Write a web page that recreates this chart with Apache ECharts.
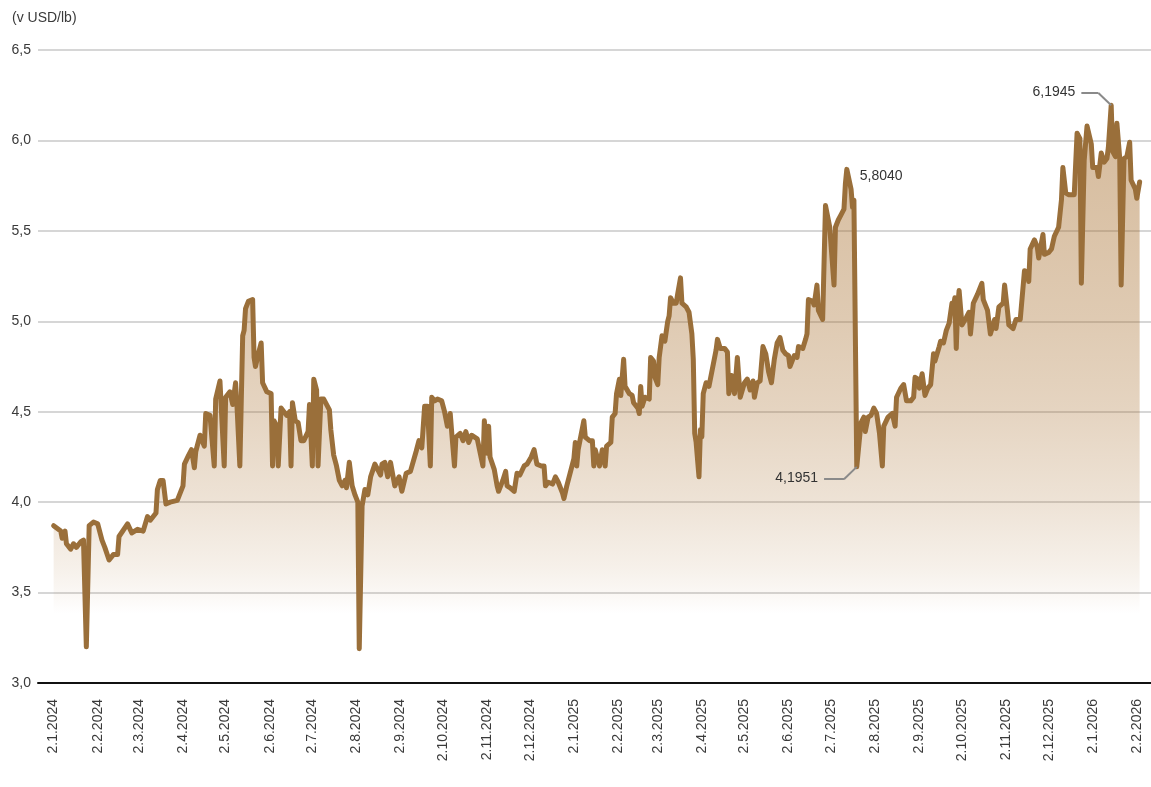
<!DOCTYPE html>
<html>
<head>
<meta charset="utf-8">
<script src="https://cdn.jsdelivr.net/npm/echarts@6/dist/echarts.min.js"></script>
<style>
  html, body { margin: 0; padding: 0; background: #fff; }
  #chart { width: 1151px; height: 787px; }
</style>
</head>
<body>
<div id="chart"></div>
<script>
// Tick labels shown under the x axis (always the 2nd of the month)
const tickLabels = [
    '2.1.2024', '2.2.2024', '2.3.2024', '2.4.2024', '2.5.2024', '2.6.2024', '2.7.2024',
    '2.8.2024', '2.9.2024', '2.10.2024', '2.11.2024', '2.12.2024',
    '2.1.2025', '2.2.2025', '2.3.2025', '2.4.2025', '2.5.2025', '2.6.2025', '2.7.2025',
    '2.8.2025', '2.9.2025', '2.10.2025', '2.11.2025', '2.12.2025',
    '2.1.2026', '2.2.2026'
];

// Price observations (USD/lb)
const dates = [
    '2024-01-02','2024-01-07','2024-01-08','2024-01-10','2024-01-11','2024-01-14','2024-01-16','2024-01-18',
    '2024-01-21','2024-01-23','2024-01-25','2024-01-27','2024-01-30','2024-02-02','2024-02-05','2024-02-07',
    '2024-02-10','2024-02-13','2024-02-16','2024-02-17','2024-02-23','2024-02-26','2024-03-01','2024-03-05',
    '2024-03-08','2024-03-10','2024-03-14','2024-03-15','2024-03-17','2024-03-19','2024-03-21','2024-03-24',
    '2024-03-29','2024-04-02','2024-04-03','2024-04-06','2024-04-08','2024-04-10','2024-04-11','2024-04-14',
    '2024-04-17','2024-04-18','2024-04-21','2024-04-24','2024-04-25','2024-04-28','2024-05-01','2024-05-02',
    '2024-05-05','2024-05-07','2024-05-09','2024-05-10','2024-05-12','2024-05-14','2024-05-15','2024-05-16',
    '2024-05-18','2024-05-21','2024-05-22','2024-05-23','2024-05-25','2024-05-27','2024-05-28','2024-05-31',
    '2024-06-03','2024-06-04','2024-06-05','2024-06-07','2024-06-08','2024-06-10','2024-06-12','2024-06-14',
    '2024-06-16','2024-06-17','2024-06-18','2024-06-20','2024-06-22','2024-06-24','2024-06-26','2024-06-29',
    '2024-06-30','2024-07-02','2024-07-03','2024-07-05','2024-07-06','2024-07-08','2024-07-10','2024-07-14',
    '2024-07-15','2024-07-17','2024-07-19','2024-07-21','2024-07-23','2024-07-25','2024-07-26','2024-07-28',
    '2024-07-30','2024-08-01','2024-08-03','2024-08-04','2024-08-06','2024-08-08','2024-08-10','2024-08-12',
    '2024-08-15','2024-08-19','2024-08-20','2024-08-22','2024-08-24','2024-08-26','2024-08-29','2024-09-01',
    '2024-09-03','2024-09-06','2024-09-09','2024-09-13','2024-09-15','2024-09-17','2024-09-19','2024-09-21',
    '2024-09-23','2024-09-24','2024-09-26','2024-09-28','2024-10-01','2024-10-03','2024-10-05','2024-10-07',
    '2024-10-08','2024-10-10','2024-10-11','2024-10-14','2024-10-16','2024-10-18','2024-10-20','2024-10-22',
    '2024-10-26','2024-10-27','2024-10-30','2024-10-31','2024-11-02','2024-11-03','2024-11-04','2024-11-07',
    '2024-11-09','2024-11-10','2024-11-13','2024-11-15','2024-11-16','2024-11-18','2024-11-21','2024-11-23',
    '2024-11-25','2024-11-28','2024-11-30','2024-12-03','2024-12-05','2024-12-07','2024-12-10','2024-12-12',
    '2024-12-13','2024-12-15','2024-12-18','2024-12-20','2024-12-22','2024-12-25','2024-12-26','2024-12-28',
    '2024-12-31',
    '2025-01-02','2025-01-03','2025-01-04','2025-01-05','2025-01-07','2025-01-09','2025-01-10','2025-01-13',
    '2025-01-15','2025-01-16','2025-01-17','2025-01-20','2025-01-22','2025-01-24','2025-01-25','2025-01-28',
    '2025-01-29','2025-01-31','2025-02-01','2025-02-03','2025-02-04','2025-02-06','2025-02-07','2025-02-10',
    '2025-02-12','2025-02-13','2025-02-16','2025-02-17','2025-02-18','2025-02-19','2025-02-21','2025-02-24',
    '2025-02-25','2025-02-27','2025-02-28','2025-03-02','2025-03-03','2025-03-05','2025-03-07','2025-03-09',
    '2025-03-10','2025-03-11','2025-03-13','2025-03-15','2025-03-16','2025-03-18','2025-03-19','2025-03-22',
    '2025-03-24','2025-03-26','2025-03-27','2025-03-28','2025-03-29','2025-03-31','2025-04-01','2025-04-02',
    '2025-04-03','2025-04-05','2025-04-07','2025-04-09','2025-04-12','2025-04-13','2025-04-15','2025-04-18',
    '2025-04-20','2025-04-21','2025-04-23','2025-04-25','2025-04-27','2025-04-29','2025-05-02','2025-05-04',
    '2025-05-06','2025-05-08','2025-05-09','2025-05-11','2025-05-13','2025-05-15','2025-05-17','2025-05-19',
    '2025-05-21','2025-05-23','2025-05-25','2025-05-27','2025-05-29','2025-05-31','2025-06-02','2025-06-03',
    '2025-06-06','2025-06-08','2025-06-09','2025-06-12','2025-06-14','2025-06-15','2025-06-16','2025-06-19',
    '2025-06-20','2025-06-22','2025-06-23','2025-06-26','2025-06-27','2025-06-28','2025-06-29','2025-07-01',
    '2025-07-04','2025-07-05','2025-07-07','2025-07-09','2025-07-11','2025-07-12','2025-07-13','2025-07-16',
    '2025-07-17','2025-07-18','2025-07-19','2025-07-20','2025-07-23','2025-07-25','2025-07-26','2025-07-28',
    '2025-07-30','2025-08-01','2025-08-03','2025-08-05','2025-08-07','2025-08-08','2025-08-11','2025-08-14',
    '2025-08-16','2025-08-17','2025-08-20','2025-08-22','2025-08-24','2025-08-27','2025-08-29','2025-08-30',
    '2025-09-01','2025-09-02','2025-09-04','2025-09-06','2025-09-08','2025-09-10','2025-09-11','2025-09-12',
    '2025-09-13','2025-09-16','2025-09-17','2025-09-19','2025-09-21','2025-09-23','2025-09-25','2025-09-26',
    '2025-09-27','2025-09-28','2025-09-29','2025-09-30','2025-10-02','2025-10-05','2025-10-07','2025-10-08',
    '2025-10-10','2025-10-13','2025-10-16','2025-10-17','2025-10-20','2025-10-22','2025-10-25','2025-10-26',
    '2025-10-28','2025-10-31','2025-11-01','2025-11-03','2025-11-04','2025-11-07','2025-11-09','2025-11-12',
    '2025-11-15','2025-11-17','2025-11-18','2025-11-19','2025-11-22','2025-11-24','2025-11-25','2025-11-28',
    '2025-11-29','2025-12-02','2025-12-04','2025-12-06','2025-12-09','2025-12-11','2025-12-12','2025-12-14',
    '2025-12-16','2025-12-20','2025-12-22','2025-12-24','2025-12-25','2025-12-27','2025-12-29',
    '2026-01-01','2026-01-02','2026-01-05','2026-01-06','2026-01-08','2026-01-10','2026-01-12','2026-01-13',
    '2026-01-15','2026-01-16','2026-01-18','2026-01-19','2026-01-21','2026-01-22','2026-01-24','2026-01-26',
    '2026-01-28','2026-01-29','2026-02-01','2026-02-02','2026-02-04'
];

const prices = [
    3.87, 3.84, 3.80, 3.84, 3.77, 3.74, 3.77, 3.75,
    3.78, 3.79, 3.20, 3.87, 3.89, 3.88, 3.79, 3.75,
    3.68, 3.71, 3.71, 3.81, 3.88, 3.83, 3.85, 3.84,
    3.92, 3.90, 3.94, 4.07, 4.12, 4.12, 3.99, 4.00,
    4.01, 4.09, 4.21, 4.26, 4.29, 4.19, 4.28, 4.37,
    4.31, 4.49, 4.48, 4.20, 4.57, 4.67, 4.20, 4.58,
    4.61, 4.54, 4.66, 4.53, 4.20, 4.92, 4.95, 5.07,
    5.11, 5.12, 4.80, 4.75, 4.82, 4.88, 4.66, 4.61,
    4.60, 4.20, 4.45, 4.42, 4.20, 4.52, 4.50, 4.48,
    4.50, 4.20, 4.55, 4.45, 4.44, 4.34, 4.34, 4.39,
    4.54, 4.20, 4.68, 4.62, 4.20, 4.57, 4.57, 4.51,
    4.40, 4.26, 4.20, 4.12, 4.09, 4.12, 4.08, 4.22,
    4.09, 4.04, 4.00, 3.19, 3.98, 4.07, 4.04, 4.14,
    4.21, 4.15, 4.21, 4.22, 4.14, 4.22, 4.09, 4.14,
    4.06, 4.16, 4.17, 4.28, 4.34, 4.30, 4.53, 4.53,
    4.20, 4.58, 4.56, 4.57, 4.56, 4.50, 4.42, 4.49,
    4.39, 4.20, 4.36, 4.38, 4.34, 4.39, 4.33, 4.37,
    4.35, 4.34, 4.20, 4.45, 4.27, 4.42, 4.25, 4.18,
    4.09, 4.06, 4.12, 4.17, 4.09, 4.08, 4.06, 4.16,
    4.15, 4.20, 4.21, 4.25, 4.29, 4.21, 4.20, 4.20,
    4.09, 4.11, 4.10, 4.14, 4.11, 4.05, 4.02, 4.09,
    4.18,
    4.24, 4.33, 4.20, 4.29, 4.37, 4.45, 4.36, 4.34,
    4.34, 4.20, 4.29, 4.20, 4.29, 4.20, 4.31, 4.33,
    4.47, 4.49, 4.60, 4.68, 4.59, 4.79, 4.64, 4.60,
    4.59, 4.55, 4.52, 4.49, 4.64, 4.53, 4.58, 4.57,
    4.80, 4.78, 4.69, 4.65, 4.80, 4.92, 4.89, 5.00,
    5.03, 5.13, 5.10, 5.10, 5.15, 5.24, 5.10, 5.08,
    5.05, 4.93, 4.79, 4.38, 4.33, 4.14, 4.40, 4.36,
    4.60, 4.66, 4.64, 4.72, 4.84, 4.90, 4.85, 4.85,
    4.83, 4.60, 4.70, 4.60, 4.80, 4.58, 4.66, 4.68,
    4.62, 4.67, 4.58, 4.66, 4.67, 4.86, 4.82, 4.72,
    4.66, 4.79, 4.88, 4.91, 4.84, 4.82, 4.81, 4.75,
    4.81, 4.80, 4.86, 4.85, 4.90, 4.93, 5.12, 5.11,
    5.09, 5.20, 5.06, 5.01, 5.00, 5.64, 5.65, 5.52,
    5.20, 5.52, 5.56, 5.59, 5.62, 5.76, 5.84, 5.73,
    5.63, 5.67, 5.67, 4.1951, 4.44, 4.47, 4.39, 4.47,
    4.48, 4.52, 4.49, 4.38, 4.20, 4.42, 4.47, 4.49,
    4.42, 4.58, 4.63, 4.65, 4.56, 4.56, 4.58, 4.69,
    4.68, 4.63, 4.71, 4.59, 4.63, 4.65, 4.64, 4.82,
    4.78, 4.86, 4.89, 4.88, 4.95, 4.99, 5.10, 5.08,
    5.13, 4.85, 5.08, 5.17, 4.98, 5.02, 5.05, 4.93,
    5.10, 5.15, 5.21, 5.12, 5.06, 4.93, 5.01, 4.96,
    5.08, 5.10, 5.20, 5.06, 4.98, 4.96, 5.01, 5.01,
    5.28, 5.27, 5.22, 5.40, 5.45, 5.41, 5.35, 5.48,
    5.37, 5.38, 5.40, 5.47, 5.52, 5.67, 5.85, 5.71,
    5.70, 5.70, 6.04, 6.01, 5.21, 5.89, 6.08,
    5.98, 5.85, 5.85, 5.80, 5.93, 5.88, 5.90, 5.96,
    6.1945, 5.94, 5.91, 6.095, 5.90, 5.20, 5.90, 5.91,
    5.99, 5.78, 5.73, 5.68, 5.77
];

// Callouts: text, anchor date/value, and guide-line corner points
const callouts = [
    { text: '5,8040', date: '2025-07-13', value: 5.84, side: 'right', path: [] },
    { text: '4,1951', date: '2025-06-27', value: 4.127, side: 'left',
      path: [['2025-06-27', 4.127], ['2025-07-11', 4.127], ['2025-07-20', 4.1951]] },
    { text: '6,1945', date: '2025-12-25', value: 6.262, side: 'left',
      path: [['2025-12-25', 6.262], ['2026-01-06', 6.262], ['2026-01-15', 6.1945]] }
];

const FONT = '"Liberation Sans", Arial, sans-serif';
const LINE_COLOR = '#9a6f3a';

// calendar-day category axis, with a little room before/after the data
function isoDay(t) { return new Date(t).toISOString().slice(0, 10); }
const axisDays = [];
for (let t = Date.UTC(2023, 11, 22); t <= Date.UTC(2026, 1, 12); t += 864e5) axisDays.push(isoDay(t));

const labelByDay = {};
tickLabels.forEach(l => {
    const [d, m, y] = l.split('.');
    labelByDay[y + '-' + m.padStart(2, '0') + '-' + d.padStart(2, '0')] = l;
});

const priceByDay = {};
dates.forEach((d, i) => { priceByDay[d] = prices[i]; });
const seriesData = axisDays.map(d => (d in priceByDay ? priceByDay[d] : null));

const guideLines = [];
callouts.forEach(c => {
    for (let i = 1; i < c.path.length; i++) {
        guideLines.push([{ coord: c.path[i - 1] }, { coord: c.path[i] }]);
    }
});

const fill = a => 'rgba(165,107,40,' + a + ')';

const chart = echarts.init(document.getElementById('chart'));
chart.setOption({
    animation: false,
    backgroundColor: '#fff',
    textStyle: { fontFamily: FONT },
    title: {
        text: '(v USD/lb)', left: 7, top: 6,
        textStyle: { fontSize: 14, fontWeight: 'normal', color: '#3a3a3a', fontFamily: FONT }
    },
    grid: { left: 38, right: 0, top: 50, bottom: 104 },
    xAxis: {
        type: 'category',
        data: axisDays,
        boundaryGap: false,
        axisLine: { show: true, lineStyle: { color: '#111', width: 2 } },
        axisTick: { show: false },
        splitLine: { show: false },
        axisLabel: {
            interval: (idx, val) => val in labelByDay,
            formatter: val => labelByDay[val] || '',
            rotate: 90,
            margin: 16,
            fontSize: 14,
            color: '#3a3a3a',
            fontFamily: FONT
        }
    },
    yAxis: {
        type: 'value',
        min: 3, max: 6.5, interval: 0.5,
        axisLine: { show: false },
        axisTick: { show: false },
        splitLine: { lineStyle: { color: '#d6d6d6', width: 2 } },
        axisLabel: {
            margin: 7, fontSize: 14, color: '#3a3a3a', fontFamily: FONT,
            formatter: v => v.toFixed(1).replace('.', ',')
        }
    },
    series: [{
        type: 'line',
        data: seriesData,
        connectNulls: true,
        symbol: 'none',
        sampling: null,
        lineStyle: { color: LINE_COLOR, width: 5, join: 'round', cap: 'round' },
        itemStyle: { color: LINE_COLOR },
        areaStyle: {
            color: new echarts.graphic.LinearGradient(0, 0, 0, 1, [
                { offset: 0, color: fill(0.66) },
                { offset: 0.16, color: fill(0.6) },
                { offset: 0.37, color: fill(0.51) },
                { offset: 0.53, color: fill(0.41) },
                { offset: 0.69, color: fill(0.27) },
                { offset: 0.8, color: fill(0.14) },
                { offset: 0.845, color: fill(0.07) },
                { offset: 0.88, color: fill(0) },
                { offset: 1, color: fill(0) }
            ])
        },
        markLine: {
            silent: true,
            symbol: 'none',
            label: { show: false },
            lineStyle: { color: '#8a8a8a', width: 2, type: 'solid' },
            data: guideLines
        },
        markPoint: {
            silent: true,
            symbol: 'circle',
            symbolSize: 0,
            data: callouts.map(c => ({
                coord: [c.date, c.value],
                label: {
                    show: true,
                    formatter: c.text,
                    position: c.side,
                    distance: c.side === 'left' ? 6 : 5,
                    offset: c.side === 'right' ? [8, 7] : [0, -1],
                    fontSize: 14,
                    color: '#333',
                    fontFamily: FONT
                }
            }))
        }
    }]
});

window.addEventListener('resize', () => chart.resize());
</script>
</body>
</html>
